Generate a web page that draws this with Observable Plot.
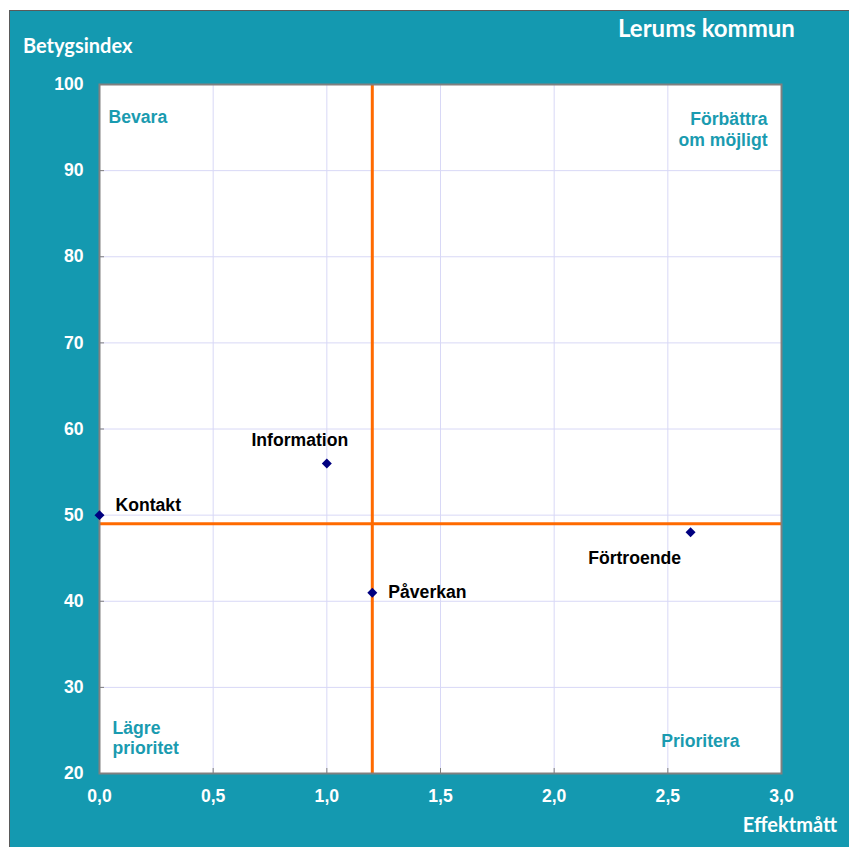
<!DOCTYPE html>
<html>
<head>
<meta charset="utf-8">
<script src="https://cdn.jsdelivr.net/npm/d3@7"></script>
<script src="https://cdn.jsdelivr.net/npm/@observablehq/plot@0.6"></script>
<style>
  html, body { margin: 0; padding: 0; background: #ffffff; }
  #wrap { position: relative; width: 849px; height: 847px; overflow: hidden; background: #ffffff; }
  #chart { position: absolute; left: 9px; top: 10px; border-top: 1px solid #5a5a5a; border-left: 1px solid #5a5a5a; line-height: 0; }
  #chart svg { display: block; }
</style>
</head>
<body>
<div id="wrap"><div id="chart"></div></div>
<script>
// ---- data ----
const names = ["Kontakt", "Information", "Påverkan", "Förtroende"];
const effekt = [0.0, 1.0, 1.2, 2.6];
const betyg = [50, 56, 41, 48];
const xTicks = [0, 0.5, 1, 1.5, 2, 2.5, 3];
const yTicks = [20, 30, 40, 50, 60, 70, 80, 90, 100];
const vLine = [1.2];
const hLine = [49];
const title = "Lerums kommun";
const yLabel = "Betygsindex";
const xLabel = "Effektmått";
const quadrants = ["Bevara", "Förbättra\nom möjligt", "Lägre\nprioritet", "Prioritera"];

const points = names.map((n, i) => ({name: n, x: effekt[i], y: betyg[i]}));
const fmt = d => d.toFixed(1).replace(".", ",");

const TEAL = "#1499b0";
const QTEAL = "#1a9bb0";
const W = 839, H = 836;
const FS = 17.6;
const font = "'Liberation Sans', Arial, sans-serif";
const lbl = (name, opts) => Plot.text(points.filter(p => p.name === name), {
  x: "x", y: "y", text: "name", fill: "#000000", fontSize: FS, fontWeight: "bold", ...opts
});

const plot = Plot.plot({
  width: W, height: H,
  marginLeft: 89, marginRight: 68, marginTop: 73, marginBottom: 74,
  style: {background: TEAL, fontFamily: font, fontSize: FS + "px", fontWeight: "bold", color: "white", overflow: "visible"},
  x: {domain: [0, 3], label: null},
  y: {domain: [20, 100], label: null},
  marks: [
    Plot.frame({fill: "white", stroke: null}),
    Plot.gridX(xTicks, {stroke: "#d8d8f6", strokeOpacity: 1, strokeWidth: 1}),
    Plot.gridY(yTicks, {stroke: "#d8d8f6", strokeOpacity: 1, strokeWidth: 1}),
    Plot.axisX({ticks: xTicks, tickFormat: fmt, tickSize: 0, tickPadding: 16, fill: "white", fontSize: FS, fontWeight: "bold", label: null}),
    Plot.axisY({ticks: yTicks, tickSize: 0, tickPadding: 16, fill: "white", fontSize: FS, fontWeight: "bold", label: null}),
    Plot.axisX({ticks: xTicks, tickSize: 5, text: null, dy: -5, stroke: "#808080", label: null}),
    Plot.axisY({ticks: yTicks, tickSize: 5, text: null, dx: 5, stroke: "#808080", label: null}),
    Plot.ruleX(vLine, {stroke: "#ff6a00", strokeWidth: 3}),
    Plot.ruleY(hLine, {stroke: "#ff6a00", strokeWidth: 3}),
    Plot.frame({stroke: "#808080", strokeWidth: 2}),
    Plot.dot(points, {x: "x", y: "y", symbol: "diamond2", r: 4.5, fill: "#000080", stroke: null}),
    lbl("Kontakt", {textAnchor: "start", dx: 16, dy: -10}),
    lbl("Information", {dx: -27, dy: -23}),
    lbl("Påverkan", {textAnchor: "start", dx: 16, dy: 0}),
    lbl("Förtroende", {dx: -56, dy: 26}),
    Plot.text([quadrants[0]], {frameAnchor: "top-left", lineAnchor: "middle", textAnchor: "start", dx: 9, dy: 33, fill: QTEAL, fontSize: FS, fontWeight: "bold"}),
    Plot.text([quadrants[1]], {frameAnchor: "top-right", lineAnchor: "middle", textAnchor: "end", dx: -14, dy: 44, lineHeight: 1.24, fill: QTEAL, fontSize: FS, fontWeight: "bold"}),
    Plot.text([quadrants[2]], {frameAnchor: "bottom-left", lineAnchor: "middle", textAnchor: "start", dx: 13, dy: -36, lineHeight: 1.14, fill: QTEAL, fontSize: FS, fontWeight: "bold"}),
    Plot.text([quadrants[3]], {frameAnchor: "bottom-right", lineAnchor: "middle", textAnchor: "end", dx: -42, dy: -32, fill: QTEAL, fontSize: FS, fontWeight: "bold"})
  ]
});

const svg = d3.select(plot);
const tfont = "Lato, 'Open Sans', sans-serif";
svg.append("text").text(title).attr("x", 618 - 10).attr("y", 37 - 11).attr("text-anchor", "start")
  .attr("fill", "white").attr("font-family", tfont).attr("font-weight", "bold").attr("font-size", 24);
svg.append("text").text(yLabel).attr("x", 23 - 10).attr("y", 53 - 11).attr("text-anchor", "start")
  .attr("fill", "white").attr("font-family", tfont).attr("font-weight", "bold").attr("font-size", 20);
svg.append("text").text(xLabel).attr("x", 837 - 10).attr("y", 832 - 11).attr("text-anchor", "end")
  .attr("fill", "white").attr("font-family", tfont).attr("font-weight", "bold").attr("font-size", 20);

document.getElementById("chart").appendChild(plot);
</script>
</body>
</html>
